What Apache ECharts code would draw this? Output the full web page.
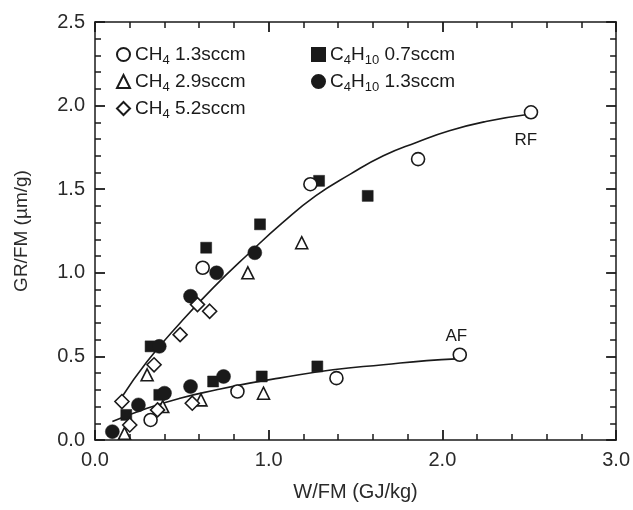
<!DOCTYPE html>
<html>
<head>
<meta charset="utf-8">
<script src="https://cdn.jsdelivr.net/npm/echarts@6/dist/echarts.min.js"></script>
<style>html,body{margin:0;padding:0;background:#fff}#c{width:633px;height:510px}</style>
</head>
<body>
<div id="c"></div>
<script>
// ---- data ----
var seriesNames = ['CH4 1.3sccm', 'CH4 2.9sccm', 'CH4 5.2sccm', 'C4H10 0.7sccm', 'C4H10 1.3sccm'];
var ch4_13 = [[0.32,0.12],[0.62,1.03],[0.82,0.29],[1.24,1.53],[1.39,0.37],[1.86,1.68],[2.10,0.51],[2.51,1.96]];
var ch4_29 = [[0.17,0.04],[0.30,0.39],[0.39,0.20],[0.61,0.24],[0.88,1.00],[0.97,0.28],[1.19,1.18]];
var ch4_52 = [[0.155,0.23],[0.20,0.09],[0.36,0.18],[0.34,0.45],[0.49,0.63],[0.56,0.22],[0.59,0.81],[0.66,0.77]];
var c4h10_07 = [[0.18,0.15],[0.32,0.56],[0.37,0.27],[0.64,1.15],[0.68,0.35],[0.95,1.29],[0.96,0.38],[1.28,0.44],[1.29,1.55],[1.57,1.46]];
var c4h10_13 = [[0.10,0.05],[0.25,0.21],[0.37,0.56],[0.40,0.28],[0.55,0.32],[0.55,0.86],[0.70,1.00],[0.74,0.38],[0.92,1.12]];
var rfCurve = [[0.15,0.25],[0.30,0.47],[0.49,0.70],[0.68,0.91],[0.89,1.12],[1.08,1.30],[1.27,1.46],[1.47,1.59],[1.66,1.70],[1.85,1.78],[2.04,1.85],[2.25,1.905],[2.48,1.945]];
var afCurve = [[0.10,0.11],[0.30,0.19],[0.49,0.25],[0.70,0.30],[0.89,0.34],[1.06,0.37],[1.37,0.42],[1.66,0.45],[1.91,0.475],[2.08,0.485]];
var curveLabels = ['RF', 'AF'];
var xName = 'W/FM (GJ/kg)';
var yName = 'GR/FM (µm/g)';
// --------------------------------------

var FONT = '"Liberation Sans", Arial, Helvetica, sans-serif';
var INK = '#1a1a1a';
var legendRich = {
  'CH4 1.3sccm': '{n|CH}{s|4}{n| 1.3sccm}',
  'CH4 2.9sccm': '{n|CH}{s|4}{n| 2.9sccm}',
  'CH4 5.2sccm': '{n|CH}{s|4}{n| 5.2sccm}',
  'C4H10 0.7sccm': '{n|C}{s|4}{n|H}{s|10}{n| 0.7sccm}',
  'C4H10 1.3sccm': '{n|C}{s|4}{n|H}{s|10}{n| 1.3sccm}'
};
var richStyle = {
  n: {fontSize: 19, fontFamily: FONT, color: INK},
  s: {fontSize: 13, fontFamily: FONT, color: INK, padding: [12, 0, 0, 0]}
};
function legendCfg(names, left) {
  return {
    data: names, orient: 'vertical', left: left, top: 45, padding: 0,
    itemWidth: 13, itemHeight: 13, itemGap: 5,
    formatter: function (n) { return legendRich[n]; },
    textStyle: {rich: richStyle, fontSize: 19, fontFamily: FONT, color: INK}
  };
}
function axisCommon(extra) {
  var base = {
    axisLine: {show: true, onZero: false, lineStyle: {color: INK, width: 1.5}},
    axisTick: {show: true, inside: true, length: 10, lineStyle: {color: INK, width: 1.8}},
    minorTick: {show: true, splitNumber: 5, length: 6, lineStyle: {color: INK, width: 1.5}},
    splitLine: {show: false},
    axisLabel: {show: true, fontSize: 20, fontFamily: FONT, color: '#2a2a2a', margin: 10,
      formatter: function (v) { return v.toFixed(1); }}
  };
  for (var k in extra) base[k] = extra[k];
  return base;
}
function scatter(name, data, symbol, size, filled) {
  return {
    name: name, type: 'scatter', data: data, symbol: symbol, symbolSize: size, z: filled ? 3 : 4,
    itemStyle: filled ? {color: INK, borderColor: INK, borderWidth: 0.5, opacity: 1}
                      : {color: '#fff', borderColor: INK, borderWidth: 1.6, opacity: 1},
    emphasis: {disabled: true}
  };
}
function curve(data, label, pos, dist) {
  return {
    type: 'line', data: data, smooth: 0.5, showSymbol: false, symbol: 'none', z: 2,
    lineStyle: {color: INK, width: 1.6}, silent: true,
    markPoint: {
      symbol: 'circle', symbolSize: 0, silent: true,
      data: [{coord: data[data.length - 1], value: label}],
      label: {show: true, position: pos, distance: dist, formatter: label,
        fontSize: 17, fontFamily: FONT, color: INK}
    }
  };
}

var chart = echarts.init(document.getElementById('c'), null, {renderer: 'canvas'});
chart.setOption({
  backgroundColor: '#fff',
  animation: false,
  grid: {left: 95, right: 15, top: 22, bottom: 70},
  legend: [legendCfg(seriesNames.slice(0, 3), 116), legendCfg(seriesNames.slice(3), 311)],
  xAxis: [
    axisCommon({type: 'value', min: 0, max: 3, interval: 1, position: 'bottom',
      name: xName, nameLocation: 'middle', nameGap: 42,
      nameTextStyle: {fontSize: 20, fontFamily: FONT, color: '#2a2a2a'}}),
    axisCommon({type: 'value', min: 0, max: 3, interval: 1, position: 'top',
      axisLabel: {show: false}})
  ],
  yAxis: [
    axisCommon({type: 'value', min: 0, max: 2.5, interval: 0.5, position: 'left',
      name: yName, nameLocation: 'middle', nameGap: 64,
      nameTextStyle: {fontSize: 19, fontFamily: FONT, color: '#2a2a2a'}}),
    axisCommon({type: 'value', min: 0, max: 2.5, interval: 0.5, position: 'right',
      axisLabel: {show: false}})
  ],
  series: [
    curve(rfCurve, curveLabels[0], 'bottom', 17),
    curve(afCurve, curveLabels[1], 'top', 14),
    scatter(seriesNames[3], c4h10_07, 'rect', 11, true),
    scatter(seriesNames[4], c4h10_13, 'circle', 14, true),
    scatter(seriesNames[0], ch4_13, 'circle', 13, false),
    scatter(seriesNames[1], ch4_29, 'triangle', 12, false),
    scatter(seriesNames[2], ch4_52, 'diamond', 14, false)
  ]
});
</script>
</body>
</html>
